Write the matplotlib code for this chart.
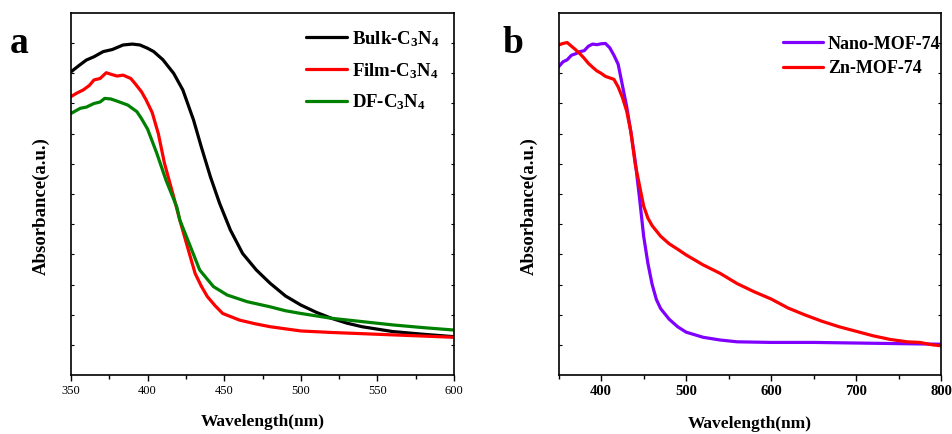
import matplotlib
matplotlib.use("Agg")
import matplotlib.pyplot as plt
from matplotlib.ticker import MultipleLocator
import numpy as np

plt.rcParams['font.family'] = ['Liberation Serif', 'DejaVu Serif']
plt.rcParams['mathtext.fontset'] = 'custom'
plt.rcParams['mathtext.rm'] = 'Liberation Serif:bold'
plt.rcParams['mathtext.it'] = 'Liberation Serif:bold'
plt.rcParams['mathtext.bf'] = 'Liberation Serif:bold'

# Panel a data
wl_bulk = [350, 355, 360, 365, 371, 377, 384, 390, 395, 400, 404, 410, 417, 423, 430, 435, 441, 447,
           454, 462, 471, 480, 490, 500, 510, 520, 530, 540, 560, 580, 600]
bulk = [10.05, 10.25, 10.44, 10.55, 10.72, 10.79, 10.94, 10.97, 10.94, 10.83, 10.72, 10.45, 10.0, 9.45,
        8.45, 7.57, 6.57, 5.69, 4.81, 4.03, 3.48, 3.04, 2.62, 2.32, 2.08, 1.88, 1.72, 1.60, 1.44, 1.35, 1.27]
wl_film = [350, 354, 358, 362, 365, 369, 373, 376, 380, 384, 389, 392, 396, 399, 403, 407, 411, 417,
           421, 426, 431, 435, 439, 444, 449, 455, 460, 470, 480, 490, 500, 520, 550, 575, 600]
film = [9.23, 9.35, 9.45, 9.6, 9.78, 9.83, 10.02, 9.97, 9.91, 9.94, 9.83, 9.65, 9.39, 9.12, 8.7, 8.0,
        7.02, 5.91, 5.14, 4.25, 3.37, 2.95, 2.60, 2.3, 2.04, 1.92, 1.82, 1.70, 1.60, 1.53, 1.46, 1.41,
        1.35, 1.30, 1.25]
wl_df = [350, 356, 360, 365, 369, 372, 376, 380, 387, 393, 396, 400, 406, 412, 419, 421, 428, 434,
         443, 452, 465, 480, 490, 500, 520, 540, 560, 580, 600]
df = [8.67, 8.84, 8.88, 9.0, 9.05, 9.17, 9.15, 9.08, 8.95, 8.73, 8.5, 8.15, 7.35, 6.46, 5.58, 5.14,
      4.25, 3.48, 2.93, 2.65, 2.43, 2.26, 2.13, 2.04, 1.88, 1.77, 1.66, 1.57, 1.49]

# Panel b data
wl_nano = [350, 355, 360, 365, 370, 375, 380, 385, 390, 395, 400, 405, 410, 415, 420, 425, 430, 435,
           440, 445, 450, 455, 460, 465, 470, 480, 490, 500, 520, 540, 560, 600, 650, 700, 750, 800]
nano = [10.22, 10.38, 10.45, 10.6, 10.65, 10.72, 10.75, 10.9, 10.97, 10.95, 10.98, 10.99, 10.85, 10.6,
        10.3, 9.6, 8.9, 8.05, 7.1, 5.9, 4.6, 3.7, 3.0, 2.5, 2.2, 1.85, 1.6, 1.42, 1.25, 1.16, 1.1, 1.08,
        1.08, 1.06, 1.04, 1.02]
wl_zn = [350, 355, 360, 365, 370, 375, 380, 385, 390, 395, 400, 405, 410, 415, 420, 425, 430, 435,
         440, 445, 450, 455, 460, 470, 480, 490, 500, 520, 540, 560, 580, 600, 620, 640, 660, 680,
         700, 720, 740, 760, 775, 790, 800]
zn = [10.94, 10.99, 11.02, 10.9, 10.78, 10.65, 10.5, 10.33, 10.2, 10.08, 10.0, 9.9, 9.85, 9.8, 9.55,
      9.2, 8.75, 8.05, 7.0, 6.3, 5.6, 5.2, 4.95, 4.6, 4.35, 4.17, 3.98, 3.65, 3.37, 3.03, 2.76, 2.52,
      2.22, 1.99, 1.78, 1.6, 1.45, 1.3, 1.18, 1.1, 1.08, 1.0, 0.97]

fig = plt.figure(figsize=(9.53, 4.34), dpi=100)
axa = fig.add_axes([71/953, 59/434, 383/953, 362/434])
axb = fig.add_axes([558.7/953, 59/434, 382.3/953, 362/434])

lw = 2.3
kw = dict(lw=lw, solid_joinstyle='round', solid_capstyle='round')
axa.plot(wl_bulk, bulk, color='black', label=r'Bulk-C$_3$N$_4$', **kw)
axa.plot(wl_film, film, color='#ff0000', label=r'Film-C$_3$N$_4$', **kw)
axa.plot(wl_df, df, color='#008000', label=r'DF-C$_3$N$_4$', **kw)
axa.set_xlim(350, 600)
axa.xaxis.set_major_locator(MultipleLocator(50))
axa.xaxis.set_minor_locator(MultipleLocator(25))

axb.plot(wl_nano, nano, color='#8000ff', label='Nano-MOF-74', **kw)
axb.plot(wl_zn, zn, color='#ff0000', label='Zn-MOF-74', **kw)
axb.set_xlim(350, 800)
axb.set_xticks([400, 500, 600, 700, 800])
axb.xaxis.set_minor_locator(MultipleLocator(50))

for ax, xlp, ylx in ((axa, 12, -0.055), (axb, 13, -0.054)):
    ax.set_ylim(0, 12)
    ax.set_yticks(np.arange(1, 12))
    ax.set_yticklabels([])
    ax.tick_params(axis='y', which='both', direction='in', left=True, right=True, length=2, width=0.8)
    ax.tick_params(axis='x', which='major', direction='out', bottom=True, top=False, length=4, width=1)
    ax.tick_params(axis='x', which='minor', direction='out', bottom=True, top=False, length=3, width=1)
    for s in ax.spines.values():
        s.set_linewidth(1.2)
    ax.set_xlabel('Wavelength(nm)', fontsize=12.5, fontweight='bold', labelpad=xlp)
    ax.set_ylabel('Absorbance(a.u.)', fontsize=13.5, fontweight='bold')
    ax.yaxis.set_label_coords(ylx, 0.467)

for lab in axa.get_xticklabels():
    lab.set_fontsize(9)
for lab in axb.get_xticklabels():
    lab.set_fontsize(10.5)
    lab.set_fontweight('bold')

axa.legend(loc='upper left', bbox_to_anchor=(0.6136, 0.956), frameon=False,
           prop={'size': 13.5, 'weight': 'bold'}, handlelength=2.2, handletextpad=0.27,
           labelspacing=0.65, borderaxespad=0, borderpad=0)
axb.legend(loc='upper left', bbox_to_anchor=(0.5867, 0.937), frameon=False,
           prop={'size': 13, 'weight': 'bold'}, handlelength=2.2, handletextpad=0.28,
           labelspacing=0.42, borderaxespad=0, borderpad=0)

fig.text(10/953, 1 - 53/434, 'a', fontsize=27, fontweight='bold')
fig.text(503/953, 1 - 53/434, 'b', fontsize=27, fontweight='bold')

fig.savefig('out.png', dpi=100)
